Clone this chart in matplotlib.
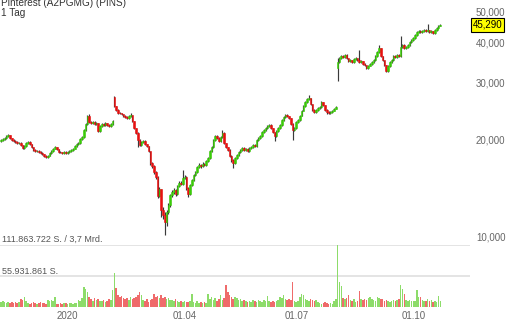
import numpy as np
import matplotlib
matplotlib.use("Agg")
import matplotlib.pyplot as plt
from matplotlib.ticker import NullLocator
from matplotlib.transforms import blended_transform_factory

plt.rcParams["font.family"] = ["Liberation Sans", "DejaVu Sans"]

# ---------- Daten (EUR, Tageskerzen) ----------
first_open = 19.81
gap_open = {63: 27.10, 187: 33.33}   # Eröffnungslücken (Quartalszahlen)

close = [
    19.95, 20.10, 20.24, 20.53, 20.68, 20.24, 19.95, 19.81, 19.67, 19.53,
    19.58, 19.26, 18.85, 19.12, 19.53, 19.67, 19.39, 18.99, 18.58, 18.45,
    18.48, 18.32, 18.19, 18.06, 17.80, 17.68, 17.80, 18.19, 18.45, 18.72,
    18.99, 18.72, 18.32, 18.28, 18.19, 18.32, 18.19, 18.32, 18.45, 18.58,
    18.72, 19.12, 19.39, 19.53, 20.10, 20.39, 21.43, 22.36, 23.68, 22.68,
    22.52, 22.68, 22.36, 22.52, 21.28, 22.05, 22.36, 22.20, 22.52, 22.20,
    22.05, 22.36, 22.85, 25.42, 24.71, 24.19, 24.15, 24.02, 23.68, 23.51,
    23.34, 23.68, 23.84, 22.85, 21.74, 20.98, 19.95, 19.26, 19.67, 19.81,
    19.39, 19.12, 18.45, 16.94, 16.58, 15.89, 15.33, 13.39, 14.08, 12.12,
    11.70, 11.13, 11.95, 12.56, 13.49, 13.78, 13.98, 13.58, 14.38, 14.69,
    14.59, 15.22, 15.33, 14.18, 13.58, 14.48, 15.01, 15.55, 15.89, 16.47,
    16.70, 16.58, 16.82, 16.70, 17.18, 17.55, 18.45, 18.99, 19.95, 20.53,
    20.24, 19.81, 20.39, 20.98, 19.53, 18.99, 18.58, 17.80, 17.31, 16.94,
    17.55, 17.93, 18.32, 18.58, 18.85, 18.58, 18.72, 18.45, 18.85, 18.99,
    19.26, 19.12, 19.95, 20.24, 20.53, 21.13, 21.43, 21.74, 22.05, 22.20,
    21.74, 21.13, 20.53, 21.28, 21.74, 22.20, 23.01, 23.51, 23.84, 23.68,
    23.34, 22.36, 21.43, 21.74, 22.68, 23.01, 23.68, 24.54, 25.42, 26.16,
    26.72, 26.91, 25.79, 24.71, 24.36, 24.71, 25.06, 25.24, 26.16, 25.60,
    24.71, 24.36, 24.19, 24.36, 24.54, 24.89, 25.24, 34.78, 35.79, 36.30,
    36.04, 36.56, 35.79, 35.03, 35.28, 34.78, 35.53, 35.79, 35.28, 34.78,
    35.03, 34.29, 34.05, 33.33, 33.81, 34.29, 34.78, 35.28, 36.30, 37.35,
    38.43, 36.30, 35.28, 34.05, 32.62, 33.81, 34.78, 35.28, 36.30, 36.04,
    36.56, 36.30, 38.70, 39.26, 38.43, 38.70, 39.26, 40.10, 40.68, 41.26,
    42.15, 43.06, 43.37, 43.06, 43.37, 43.68, 43.37, 43.68, 43.06, 43.37,
    42.76, 43.68, 44.33, 44.97, 45.29,
]

high = [
    20.10, 20.25, 20.40, 20.75, 20.85, 20.75, 20.30, 20.05, 19.90, 19.75,
    19.70, 19.65, 19.30, 19.20, 19.62, 19.80, 19.75, 19.45, 19.05, 18.70,
    18.60, 18.58, 18.40, 18.30, 18.12, 17.90, 17.92, 18.28, 18.55, 18.80,
    19.10, 19.05, 18.78, 18.45, 18.38, 18.42, 18.40, 18.45, 18.55, 18.68,
    18.85, 19.20, 19.50, 19.65, 20.20, 20.55, 21.55, 22.50, 23.90, 23.95,
    22.85, 22.90, 22.80, 22.70, 22.55, 22.15, 22.50, 22.45, 22.65, 22.60,
    22.30, 22.48, 22.95, 27.30, 25.50, 24.80, 24.35, 24.25, 24.10, 23.80,
    23.60, 23.80, 24.19, 23.90, 22.90, 21.80, 21.05, 20.05, 19.80, 19.95,
    19.90, 19.45, 19.18, 18.50, 17.05, 16.65, 16.00, 15.40, 14.30, 14.10,
    12.40, 11.95, 12.10, 12.70, 13.60, 13.95, 14.15, 14.05, 14.50, 14.85,
    14.95, 16.12, 15.60, 15.40, 14.25, 14.60, 15.15, 15.70, 16.05, 16.60,
    16.90, 16.85, 17.00, 16.95, 17.30, 17.70, 18.60, 19.15, 20.10, 20.70,
    20.65, 20.35, 20.50, 21.43, 21.05, 19.60, 19.05, 18.65, 17.90, 17.40,
    17.65, 18.05, 18.45, 18.72, 18.99, 18.95, 18.85, 18.80, 18.95, 19.12,
    19.40, 19.35, 20.05, 20.38, 20.68, 21.25, 21.58, 21.90, 22.20, 22.35,
    22.30, 21.80, 21.20, 21.40, 21.85, 22.35, 23.15, 23.68, 24.02, 23.95,
    23.75, 23.40, 22.45, 21.90, 22.80, 23.15, 23.80, 24.70, 25.55, 26.30,
    26.90, 27.49, 27.00, 25.85, 24.80, 24.85, 25.20, 25.40, 26.34, 26.25,
    25.65, 24.80, 24.45, 24.50, 24.68, 25.00, 25.40, 35.79, 36.10, 36.60,
    36.50, 36.90, 36.70, 35.90, 35.50, 35.40, 35.70, 36.00, 35.90, 37.88,
    35.30, 35.15, 34.45, 34.15, 34.00, 34.50, 34.95, 35.45, 36.50, 37.60,
    39.26, 38.55, 36.40, 35.40, 34.15, 33.95, 34.95, 35.50, 36.50, 36.45,
    36.80, 36.75, 41.85, 39.60, 39.40, 38.95, 39.55, 40.40, 40.95, 41.55,
    42.45, 43.37, 43.68, 43.60, 43.65, 43.95, 43.85, 45.61, 43.80, 43.60,
    43.45, 43.90, 44.60, 45.25, 45.60,
]

low = [
    19.70, 19.85, 20.00, 20.15, 20.40, 20.10, 19.85, 19.70, 19.55, 19.40,
    19.42, 19.15, 18.70, 18.75, 19.05, 19.45, 19.30, 18.90, 18.50, 18.35,
    18.30, 18.22, 18.10, 17.95, 17.70, 17.50, 17.60, 17.75, 18.10, 18.38,
    18.65, 18.62, 18.20, 18.15, 18.05, 18.10, 18.08, 18.12, 18.25, 18.38,
    18.50, 18.65, 19.05, 19.30, 19.45, 20.00, 20.30, 21.35, 22.25, 22.55,
    22.35, 22.40, 22.20, 22.25, 21.10, 21.20, 21.95, 22.05, 22.10, 22.05,
    21.90, 21.95, 22.25, 25.30, 24.55, 24.05, 23.95, 23.85, 23.55, 23.35,
    23.15, 23.25, 23.55, 22.70, 21.60, 20.85, 18.99, 19.10, 19.15, 19.55,
    19.25, 18.95, 18.30, 16.75, 16.35, 15.70, 15.15, 13.20, 13.25, 11.53,
    11.40, 10.14, 10.80, 11.80, 12.40, 13.30, 13.60, 13.40, 13.50, 14.25,
    14.45, 14.50, 15.10, 14.00, 13.30, 13.50, 14.40, 14.90, 15.45, 15.80,
    16.35, 16.40, 16.45, 16.55, 16.60, 17.05, 17.45, 18.35, 18.90, 19.85,
    20.05, 19.65, 19.70, 20.30, 19.35, 18.85, 18.40, 17.65, 17.10, 16.35,
    16.85, 17.45, 17.85, 18.20, 18.45, 18.45, 18.50, 18.30, 18.38, 18.75,
    18.90, 18.95, 19.05, 19.85, 20.15, 20.45, 21.00, 21.30, 21.65, 21.95,
    21.60, 21.00, 19.81, 20.45, 21.15, 21.65, 22.10, 22.90, 23.40, 23.50,
    23.20, 22.20, 19.95, 21.30, 21.65, 22.55, 22.90, 23.60, 24.45, 25.30,
    26.05, 26.60, 25.65, 24.55, 24.20, 24.25, 24.60, 24.95, 25.15, 25.45,
    24.55, 24.02, 24.00, 24.05, 24.25, 24.45, 24.80, 30.38, 34.60, 35.60,
    35.80, 35.90, 35.55, 34.80, 34.85, 34.55, 34.65, 35.40, 35.10, 34.55,
    34.60, 34.05, 33.80, 33.09, 33.20, 33.70, 34.15, 34.65, 35.15, 36.15,
    37.20, 36.05, 35.03, 33.81, 32.39, 32.50, 33.65, 34.60, 35.15, 35.80,
    35.90, 36.10, 36.15, 38.55, 38.15, 38.25, 38.55, 39.10, 39.95, 40.50,
    41.10, 41.95, 42.90, 42.80, 42.90, 43.20, 43.10, 43.20, 42.80, 42.90,
    42.45, 42.60, 43.50, 44.15, 44.80,
]

# Volumen in Mio. Stück
volume = [
    9, 11, 9, 7, 9, 7, 9, 7, 9, 7,
    9, 14, 12, 18, 11, 7, 5, 7, 9, 7,
    5, 7, 9, 7, 7, 5, 12, 11, 12, 11,
    18, 5, 5, 7, 5, 7, 7, 5, 7, 7,
    5, 7, 7, 12, 11, 16, 36, 32, 27, 18,
    14, 11, 16, 13, 14, 11, 11, 13, 9, 11,
    14, 13, 30, 61, 34, 22, 18, 20, 16, 14,
    16, 13, 18, 14, 16, 18, 22, 27, 22, 13,
    11, 14, 9, 13, 14, 23, 18, 20, 16, 22,
    16, 18, 14, 16, 13, 13, 11, 14, 11, 9,
    11, 9, 11, 9, 9, 11, 23, 9, 7, 11,
    7, 9, 7, 9, 7, 23, 14, 18, 13, 16,
    11, 14, 22, 13, 16, 40, 27, 22, 18, 14,
    18, 16, 13, 14, 11, 13, 11, 9, 11, 9,
    13, 11, 9, 13, 11, 9, 13, 11, 20, 11,
    9, 11, 9, 11, 13, 18, 16, 22, 14, 13,
    14, 13, 45, 11, 9, 11, 18, 23, 22, 14,
    13, 11, 14, 13, 11, 13, 9, 7, 5, 7,
    9, 7, 5, 7, 5, 11, 14, 111.863722, 45, 38,
    16, 14, 16, 22, 13, 11, 14, 9, 11, 29,
    14, 13, 14, 13, 16, 18, 14, 13, 11, 18,
    16, 14, 14, 11, 13, 11, 9, 11, 13, 11,
    13, 14, 40, 32, 23, 13, 11, 13, 11, 11,
    11, 30, 18, 18, 13, 11, 11, 14, 11, 13,
    9, 11, 9, 20, 11,
]

tick_pos = [37, 102, 164, 229]
tick_lab = ["2020", "01.04", "01.07", "01.10"]
price_ticks = [10, 20, 30, 40, 50]
last_price = 45.29

# ---------- Aufbereitung ----------
c = np.array(close)
o = np.array([first_open] + close[:-1])
for k, v in gap_open.items():
    o[k] = v
h = np.array(high); l = np.array(low)
vol = np.array(volume)
idx = np.arange(len(c))

GREEN, RED = "#3acc08", "#e81010"
VGREEN, VRED = "#8ddc6a", "#ef6b6b"
cand_col = np.where(c >= o, GREEN, RED)
prev = np.r_[first_open, c[:-1]]
vol_col = np.where(c >= prev, VGREEN, VRED)

fig = plt.figure(figsize=(5.1, 3.2), dpi=100)
W, H = 510, 320
xlim = (-0.556, 260.5)

# ---------- Kurs ----------
ax = fig.add_axes([0, 1 - 245 / H, 470 / W, 245 / H])
ax.set_yscale("log")
ax.vlines(idx, l, h, color="#3a3a3a", lw=0.85, zorder=1)
ax.bar(idx, np.abs(c - o), bottom=np.minimum(o, c), width=0.9,
       color=cand_col, edgecolor=cand_col, linewidth=0.4, zorder=2)
ax.set_xlim(*xlim)
ax.set_ylim(9.446, 54.09)
ax.yaxis.tick_right()
ax.yaxis.set_minor_locator(NullLocator())
ax.set_yticks(price_ticks)
ax.set_yticklabels([f"{v:.3f}".replace(".", ",") for v in price_ticks])
ax.tick_params(axis="y", length=0, pad=4.3, labelsize=7, labelcolor="#666666")
ax.set_xticks([])
for s in ax.spines.values():
    s.set_visible(False)
ax.patch.set_alpha(0)
tr = blended_transform_factory(ax.transAxes, ax.transData)
ax.text(1.006, last_price, f"{last_price:.3f}".replace(".", ","), transform=tr,
        ha="left", va="center", fontsize=7, color="black", zorder=5,
        bbox=dict(boxstyle="square,pad=0.18", fc="#ffff00", ec="black", lw=0.8))

# ---------- Volumen ----------
av = fig.add_axes([0, 1 - 307 / H, 470 / W, 62 / H])
vmax = vol.max()
av.axhline(vmax, color="#e4e4e4", lw=1.4, zorder=0)
av.axhline(vmax / 2, color="#e4e4e4", lw=1.4, zorder=0)
av.bar(idx, vol, width=0.85, color=vol_col, linewidth=0, zorder=2)
av.set_xlim(*xlim)
av.set_ylim(0, vmax)
av.set_yticks([])
av.set_xticks(tick_pos)
av.set_xticklabels(tick_lab)
av.tick_params(axis="x", length=0, pad=3.2, labelsize=7, labelcolor="#666666")
for s in av.spines.values():
    s.set_visible(False)
av.patch.set_alpha(0)

fig.text(2 / W, 1 - 241.5 / H, "111.863.722 S. / 3,7 Mrd.", fontsize=6.5,
         color="#555555", va="baseline", ha="left")
fig.text(2 / W, 1 - 274.5 / H, "55.931.861 S.", fontsize=6.5,
         color="#555555", va="baseline", ha="left")

# ---------- Titel ----------
fig.text(1 / W, 1 - 6.5 / H, "Pinterest (A2PGMG) (PINS)", fontsize=7.2,
         color="#333333", va="baseline", ha="left")
fig.text(1 / W, 1 - 16.5 / H, "1 Tag", fontsize=7.2, color="#333333",
         va="baseline", ha="left")

fig.savefig("out.png", dpi=100)
